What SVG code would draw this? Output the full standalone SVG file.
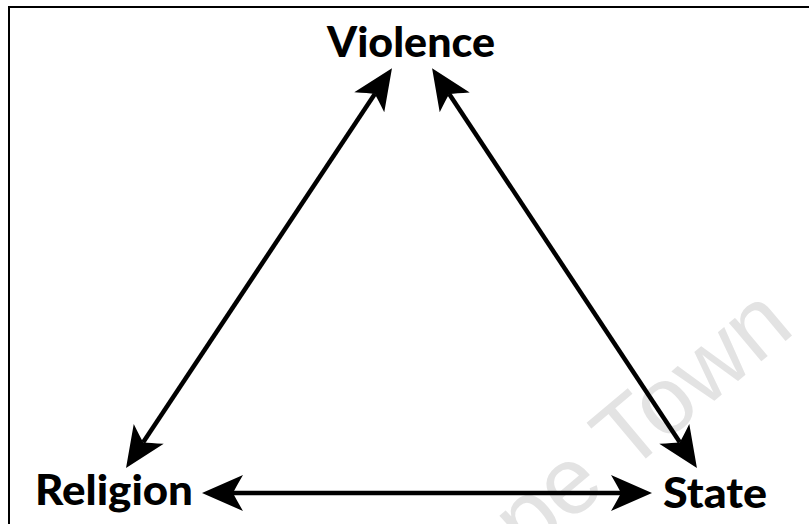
<svg xmlns="http://www.w3.org/2000/svg" width="809" height="524" viewBox="0 0 809 524">
  <style>
    .label { font-family: Lato, "Open Sans", "Liberation Sans", sans-serif; font-weight: 900; font-size: 42px; fill: #000; }
    .edge { stroke: #000; stroke-width: 4.5; fill: none; }
    .watermark { font-family: "Liberation Sans", Arial, sans-serif; font-size: 95px; fill: #e3e3e3; }
  </style>
  <defs>
    <marker id="head" viewBox="-12 -20 52 40" markerWidth="52" markerHeight="40" refX="0" refY="0" markerUnits="userSpaceOnUse" orient="auto-start-reverse" overflow="visible">
      <path d="M31,0 L-10,-18 Q-3,-6 0,0 Q-3,6 -10,18 Z" fill="#000"/>
    </marker>
  </defs>
  <rect width="809" height="524" fill="#fff"/>
  <text class="watermark" transform="translate(434,636) rotate(-40)">Cape Town</text>
  <path d="M9,524 V7 H809" stroke="#000" stroke-width="2" fill="none"/>
  <g id="connectors">
    <line class="edge" x1="374.8" y1="94" x2="143.2" y2="442.2" marker-start="url(#head)" marker-end="url(#head)"/>
    <line class="edge" x1="449.2" y1="94" x2="679.8" y2="442.2" marker-start="url(#head)" marker-end="url(#head)"/>
    <line class="edge" x1="233" y1="493" x2="621" y2="493" marker-start="url(#head)" marker-end="url(#head)"/>
  </g>
  <g id="violence">
    <text class="label" x="327" y="57" textLength="168" lengthAdjust="spacingAndGlyphs">Violence</text>
  </g>
  <g id="religion">
    <text class="label" x="35" y="505" textLength="158" lengthAdjust="spacingAndGlyphs">Religion</text>
  </g>
  <g id="state">
    <text class="label" x="663" y="508" textLength="104" lengthAdjust="spacingAndGlyphs">State</text>
  </g>
</svg>
